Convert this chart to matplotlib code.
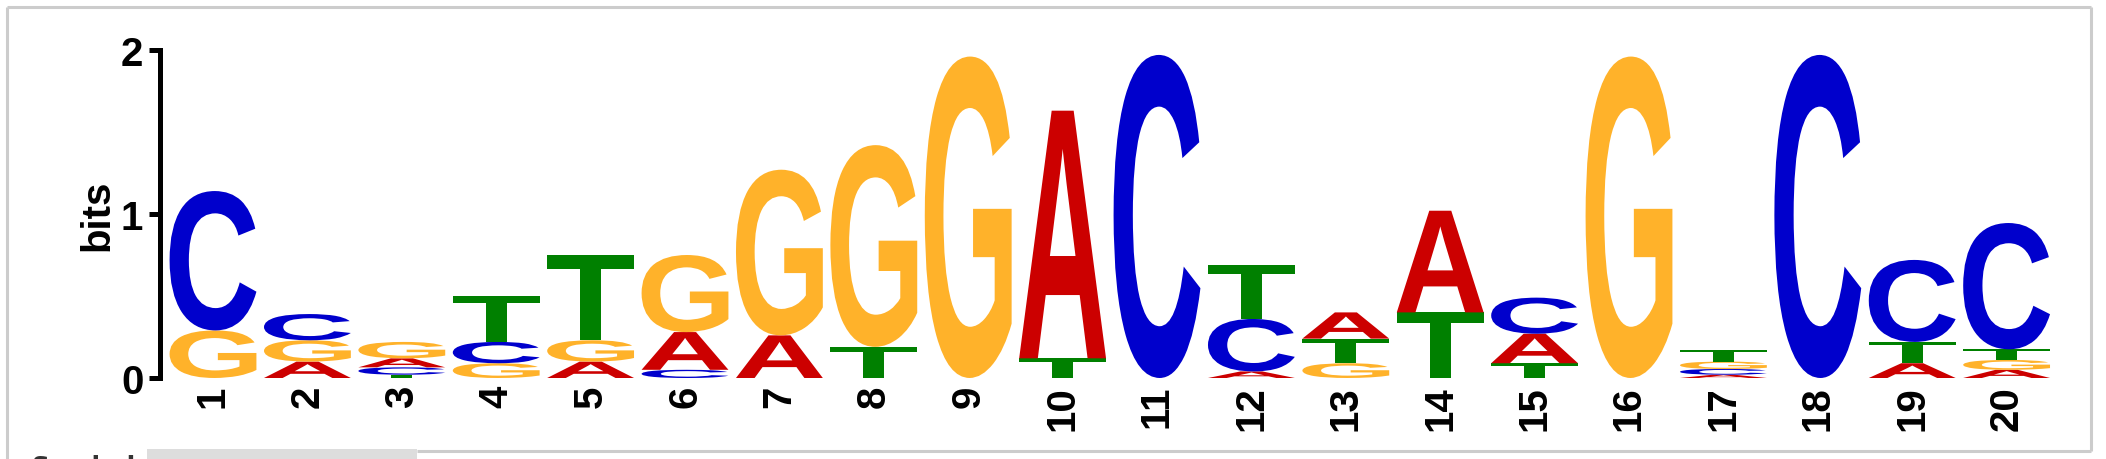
import matplotlib
matplotlib.use('Agg')
import matplotlib.pyplot as plt
from matplotlib.font_manager import FontProperties
from matplotlib.textpath import TextPath
from matplotlib.patches import PathPatch, Rectangle
from matplotlib.transforms import Affine2D
from matplotlib.lines import Line2D

# Sequence logo data: information (bits) carried by each base at each position
positions = list(range(1, 21))
bases = ['A', 'C', 'G', 'T']
bits_A = [0.00, 0.10, 0.055, 0.00, 0.10, 0.23, 0.26, 0.00, 0.00, 1.51,
          0.00, 0.04, 0.16, 0.62, 0.18, 0.00, 0.020, 0.00, 0.09, 0.050]
bits_C = [0.85, 0.16, 0.045, 0.13, 0.00, 0.05, 0.00, 0.00, 0.00, 0.00,
          1.97, 0.32, 0.00, 0.00, 0.22, 0.00, 0.035, 1.97, 0.50, 0.770]
bits_G = [0.29, 0.13, 0.100, 0.09, 0.13, 0.47, 1.01, 1.23, 1.96, 0.00,
          0.00, 0.00, 0.09, 0.00, 0.00, 1.96, 0.045, 0.00, 0.00, 0.060]
bits_T = [0.00, 0.00, 0.020, 0.28, 0.52, 0.00, 0.00, 0.19, 0.00, 0.12,
          0.00, 0.33, 0.15, 0.40, 0.09, 0.00, 0.070, 0.00, 0.13, 0.065]

colors = {'A': '#CC0000', 'C': '#0000CC', 'G': '#FFB22A', 'T': '#008000'}

W, H = 2106, 460
fig = plt.figure(figsize=(W / 100, H / 100), dpi=100)
fig.patch.set_facecolor('white')

# axes placed in pixel terms: y axis at x=160px, y=0 at 379px, y=2 at 51px
ax_left, ax_right = 160, 2056
y_zero, y_two = 379, 51
ax = fig.add_axes([ax_left / W, 1 - y_zero / H, (ax_right - ax_left) / W, (y_zero - y_two) / H])
first_px, step = 213, 94.4
ax.set_xlim(1 - (first_px - ax_left) / step, 20 + (ax_right - first_px - 19 * step) / step)
ax.set_ylim(0, 2)

fp = FontProperties(family='Liberation Sans', weight='bold')
letter_w = 0.92


def draw_letter(letter, x, y, h):
    tp = TextPath((0, 0), letter, size=1, prop=fp)
    bb = tp.get_extents()
    tr = Affine2D().translate(-bb.x0, -bb.y0).scale(letter_w / bb.width, h / bb.height)
    tr = tr.translate(x - letter_w / 2, y)
    ax.add_patch(PathPatch(tr.transform_path(tp), fc=colors[letter], ec='none', lw=0))


table = {'A': bits_A, 'C': bits_C, 'G': bits_G, 'T': bits_T}
for i, pos in enumerate(positions):
    stack = sorted([(table[b][i], b) for b in bases])
    y = 0
    for h, b in stack:
        if h <= 0:
            continue
        draw_letter(b, pos, y, h)
        y += h

# axis styling
for s in ['top', 'right', 'bottom']:
    ax.spines[s].set_visible(False)
ax.spines['left'].set_linewidth(3.6)
ax.spines['left'].set_color('black')
ax.set_yticks([0, 1, 2])
ax.set_yticklabels(['0', '1', '2'], fontproperties=fp, fontsize=29)
ax.tick_params(axis='y', length=8, width=3.6, pad=4, color='black')
ax.set_xticks(positions)
ax.set_xticklabels([str(p) for p in positions], rotation=90, fontproperties=fp, fontsize=29)
ax.tick_params(axis='x', length=0, pad=5)
ax.set_ylabel('bits', fontproperties=fp, fontsize=29, labelpad=3)
ax.patch.set_alpha(0)


# page frame around the logo and the tab strip below it
def px_line(x0, y0, x1, y1, **kw):
    fig.add_artist(Line2D([x0 / W, x1 / W], [1 - y0 / H, 1 - y1 / H], transform=fig.transFigure, **kw))


frame = dict(color='#cccccc', lw=2.2, solid_capstyle='butt')
px_line(7, 8, 2091, 8, **frame)
px_line(2091, 8, 2091, 452, **frame)
px_line(7, 8, 7, 460, **frame)
px_line(417, 452, 2091, 452, **frame)
fig.add_artist(Rectangle((147 / W, 0), 270 / W, 10 / H, transform=fig.transFigure,
                         fc='#dddddd', ec='none'))
fig.text(31 / W, 1 - 455 / H, 'Symbols', fontsize=18, fontweight='bold', color='#333333', va='top')

fig.savefig('out.png', dpi=100, facecolor='white')
